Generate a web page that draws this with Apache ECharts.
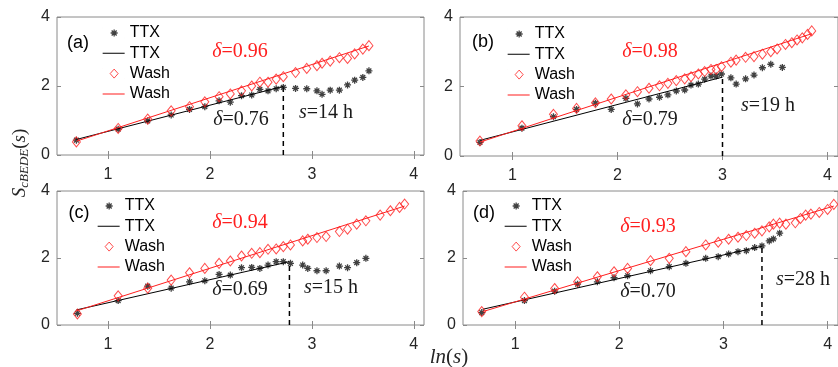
<!DOCTYPE html>
<html>
<head>
<meta charset="utf-8">
<script src="https://cdn.jsdelivr.net/npm/echarts@6/dist/echarts.min.js"></script>
<style>
  html, body { margin: 0; padding: 0; background: #fff; }
  #chart { width: 838px; height: 367px; }
</style>
</head>
<body>
<div id="chart"></div>
<script>
// tick labels
const xTicks = [1, 2, 3, 4];
const yTicks = [0, 2, 4];

// panel (a)
const aX = [0.69, 1.10, 1.39, 1.62, 1.80, 1.95, 2.09, 2.20, 2.31, 2.41, 2.49, 2.57, 2.65, 2.72, 2.84, 2.95, 3.05, 3.10, 3.18, 3.27, 3.35, 3.42, 3.50, 3.56];
const aTtxY = [0.43, 0.75, 0.99, 1.16, 1.32, 1.40, 1.57, 1.53, 1.72, 1.74, 1.90, 1.86, 1.92, 1.96, 1.93, 1.92, 1.86, 1.76, 1.88, 1.88, 2.03, 2.17, 2.25, 2.44];
const aWashY = [0.38, 0.77, 1.04, 1.28, 1.40, 1.54, 1.69, 1.77, 1.86, 2.00, 2.11, 2.11, 2.20, 2.27, 2.39, 2.51, 2.59, 2.66, 2.72, 2.82, 2.80, 2.93, 3.07, 3.17];
const aTtxFitX = [0.69, 2.72], aTtxFitY = [0.45, 1.99];
const aWashFitX = [0.69, 3.56], aWashFitY = [0.40, 3.16];
const aCut = [2.72, 1.97];

// panel (b)
const bWashX = [0.69, 1.09, 1.39, 1.61, 1.79, 1.94, 2.08, 2.19, 2.30, 2.40, 2.48, 2.56, 2.64, 2.70, 2.77, 2.83, 2.89, 2.94, 2.99, 3.08, 3.13, 3.22, 3.30, 3.38, 3.46, 3.52, 3.60, 3.66, 3.71, 3.76, 3.81, 3.85];
const bWashY = [0.43, 0.87, 1.20, 1.37, 1.53, 1.64, 1.76, 1.85, 1.95, 2.02, 2.09, 2.17, 2.22, 2.28, 2.36, 2.43, 2.49, 2.49, 2.57, 2.70, 2.76, 2.84, 2.86, 2.93, 3.00, 3.08, 3.21, 3.26, 3.34, 3.40, 3.50, 3.60];
const bTtxX = [0.69, 1.09, 1.39, 1.61, 1.79, 1.94, 2.08, 2.19, 2.30, 2.40, 2.48, 2.56, 2.64, 2.70, 2.77, 2.83, 2.89, 2.94, 2.99, 3.08, 3.13, 3.22, 3.30, 3.38, 3.46, 3.57];
const bTtxY = [0.39, 0.80, 1.13, 1.34, 1.52, 1.34, 1.66, 1.50, 1.64, 1.69, 1.76, 1.87, 1.90, 2.04, 2.07, 2.21, 2.30, 2.30, 2.36, 2.25, 2.07, 2.22, 2.33, 2.54, 2.64, 2.55];
const bTtxFitX = [0.69, 3.00], bTtxFitY = [0.45, 2.27];
const bWashFitX = [0.69, 3.85], bWashFitY = [0.40, 3.52];
const bCut = [3.00, 2.30];

// panel (c)
const cWashX = [0.70, 1.10, 1.39, 1.62, 1.80, 1.95, 2.09, 2.20, 2.31, 2.41, 2.49, 2.57, 2.65, 2.72, 2.79, 2.91, 2.96, 3.05, 3.14, 3.27, 3.35, 3.44, 3.53, 3.67, 3.77, 3.86, 3.91];
const cWashY = [0.33, 0.87, 1.10, 1.34, 1.56, 1.69, 1.84, 1.91, 2.06, 2.14, 2.16, 2.26, 2.27, 2.34, 2.39, 2.51, 2.56, 2.61, 2.64, 2.79, 2.86, 3.01, 3.11, 3.28, 3.41, 3.51, 3.61];
const cTtxX = [0.70, 1.10, 1.39, 1.62, 1.80, 1.95, 2.09, 2.20, 2.31, 2.41, 2.49, 2.57, 2.65, 2.72, 2.79, 2.91, 2.96, 3.05, 3.14, 3.27, 3.35, 3.44, 3.53];
const cTtxY = [0.35, 0.73, 1.16, 1.10, 1.29, 1.32, 1.51, 1.49, 1.71, 1.72, 1.69, 1.79, 1.89, 1.89, 1.84, 1.79, 1.69, 1.62, 1.62, 1.76, 1.71, 1.86, 1.99];
const cTtxFitX = [0.69, 2.78], cTtxFitY = [0.45, 1.89];
const cWashFitX = [0.69, 3.91], cWashFitY = [0.42, 3.55];
const cCut = [2.78, 1.88];

// panel (d)
const dWashX = [0.68, 1.09, 1.38, 1.60, 1.79, 1.95, 2.08, 2.30, 2.48, 2.64, 2.83, 2.95, 3.05, 3.14, 3.22, 3.30, 3.37, 3.44, 3.48, 3.54, 3.60, 3.69, 3.74, 3.79, 3.84, 3.92, 4.00, 4.06];
const dWashY = [0.40, 0.83, 1.09, 1.29, 1.44, 1.59, 1.69, 1.92, 1.99, 2.19, 2.39, 2.47, 2.56, 2.62, 2.67, 2.74, 2.81, 2.93, 3.01, 3.04, 3.01, 3.05, 3.18, 3.28, 3.31, 3.36, 3.45, 3.60];
const dTtxX = [0.68, 1.09, 1.38, 1.60, 1.79, 1.95, 2.08, 2.30, 2.48, 2.64, 2.83, 2.95, 3.05, 3.14, 3.22, 3.30, 3.37, 3.44, 3.48, 3.54];
const dTtxY = [0.37, 0.73, 1.01, 1.22, 1.29, 1.41, 1.47, 1.62, 1.74, 1.84, 1.99, 2.04, 2.12, 2.19, 2.22, 2.31, 2.36, 2.51, 2.57, 2.74];
const dTtxFitX = [0.69, 3.37], dTtxFitY = [0.47, 2.35];
const dWashFitX = [0.69, 4.06], dWashFitY = [0.40, 3.55];
const dCut = [3.37, 2.36];

const RED = '#ff1f1f';
const BOX = '#8a8a8a';
const SANS = '"Liberation Sans", Arial, sans-serif';
const SERIF = '"Liberation Serif", "Times New Roman", serif';
const STAR = 'path://M0,5L10,5M5,0L5,10M1.6,1.6L8.4,8.4M8.4,1.6L1.6,8.4';
// legend icons, padded to a 22x10 box so they are not stretched
const PAD = 'M0,0L0.01,0M21.99,10L22,10';
const STAR_ICON = 'path://' + PAD + 'M8,5L15,5M11.5,1.5L11.5,8.5M9,2.5L14,7.5M14,2.5L9,7.5';
const DIAMOND_ICON = 'path://' + PAD + 'M11.5,0.5L15.5,5L11.5,9.5L7.5,5Z';
const LINE_ICON = 'path://' + PAD + 'M0,4.5L22,4.5L22,5.5L0,5.5Z';

const zip = (xs, ys) => xs.map((x, i) => [x, ys[i]]);

const panels = [
  {tag: '(a)', grid: {left: 57, top: 17, width: 367, height: 138},
    ttx: zip(aX, aTtxY), wash: zip(aX, aWashY), ttxFit: zip(aTtxFitX, aTtxFitY), washFit: zip(aWashFitX, aWashFitY), cut: aCut,
    legend: {left: 102, top: 25}, tagPos: [78, 43],
    red: ['0.96', 240, 52], black: ['0.76', 241, 120], sText: ['14', 326, 113]},
  {tag: '(b)', grid: {left: 460, top: 17, width: 383, height: 139},
    ttx: zip(bTtxX, bTtxY), wash: zip(bWashX, bWashY), ttxFit: zip(bTtxFitX, bTtxFitY), washFit: zip(bWashFitX, bWashFitY), cut: bCut,
    legend: {left: 507, top: 26}, tagPos: [483, 42],
    red: ['0.98', 650, 52], black: ['0.79', 650, 120], sText: ['19', 768, 106]},
  {tag: '(c)', grid: {left: 57, top: 191, width: 367, height: 134},
    ttx: zip(cTtxX, cTtxY), wash: zip(cWashX, cWashY), ttxFit: zip(cTtxFitX, cTtxFitY), washFit: zip(cWashFitX, cWashFitY), cut: cCut,
    legend: {left: 97, top: 198}, tagPos: [79, 213],
    red: ['0.94', 240, 223], black: ['0.69', 240, 290], sText: ['15', 331, 288]},
  {tag: '(d)', grid: {left: 463, top: 191, width: 375, height: 134},
    ttx: zip(dTtxX, dTtxY), wash: zip(dWashX, dWashY), ttxFit: zip(dTtxFitX, dTtxFitY), washFit: zip(dWashFitX, dWashFitY), cut: dCut,
    legend: {left: 504, top: 198}, tagPos: [484, 213],
    red: ['0.93', 648, 227], black: ['0.70', 648, 292], sText: ['28', 803, 280]}
];

const grids = [], xAxes = [], yAxes = [], series = [], legends = [], graphics = [];

panels.forEach((p, i) => {
  grids.push(Object.assign({show: true, borderColor: BOX, borderWidth: 1, backgroundColor: '#fff'}, p.grid));

  ['bottom', 'top'].forEach(pos => {
    xAxes.push({
      type: 'value', gridIndex: i, position: pos, min: 0.5, max: 4.1,
      axisLine: {show: false},
      splitLine: {show: false},
      axisTick: {show: true, inside: true, length: 4, customValues: xTicks, lineStyle: {color: BOX}},
      axisLabel: {show: pos === 'bottom', customValues: xTicks, margin: 12, fontSize: 16, color: '#262626', fontFamily: SANS}
    });
  });
  ['left', 'right'].forEach(pos => {
    yAxes.push({
      type: 'value', gridIndex: i, position: pos, min: 0, max: 4,
      axisLine: {show: false},
      splitLine: {show: false},
      axisTick: {show: true, inside: true, length: 4, customValues: yTicks, lineStyle: {color: BOX}},
      axisLabel: {show: pos === 'left', customValues: yTicks, margin: 7, padding: [7, 0, 0, 0], fontSize: 16, color: '#262626', fontFamily: SANS}
    });
  });

  const ax = {xAxisIndex: 2 * i, yAxisIndex: 2 * i};
  const names = [i + '|TTX|pts', i + '|TTX|fit', i + '|Wash|pts', i + '|Wash|fit'];

  series.push(Object.assign({
    name: names[0], type: 'scatter', data: p.ttx, symbol: STAR, symbolSize: 7, symbolKeepAspect: true,
    itemStyle: {color: '#111', borderColor: '#111', borderWidth: 1.3}, z: 3
  }, ax));
  series.push(Object.assign({
    name: names[1], type: 'line', data: p.ttxFit, symbol: 'none',
    itemStyle: {color: '#000'}, lineStyle: {color: '#000', width: 1}, z: 4
  }, ax));
  series.push(Object.assign({
    name: names[2], type: 'scatter', data: p.wash, symbol: 'diamond', symbolSize: [8, 10],
    itemStyle: {color: 'rgba(255,255,255,0)', borderColor: RED, borderWidth: 1}, z: 5
  }, ax));
  series.push(Object.assign({
    name: names[3], type: 'line', data: p.washFit, symbol: 'none',
    itemStyle: {color: RED}, lineStyle: {color: RED, width: 1}, z: 6
  }, ax));
  series.push(Object.assign({
    name: i + '|cut', type: 'line', data: [[p.cut[0], 0], [p.cut[0], p.cut[1]]], symbol: 'none',
    lineStyle: {color: '#000', width: 1.5, type: [5, 4]}, z: 2, silent: true
  }, ax));

  legends.push({
    orient: 'vertical', left: p.legend.left, top: p.legend.top, padding: 0,
    itemWidth: 22, itemHeight: 10, itemGap: 4.3, selectedMode: false,
    data: [
      {name: names[0], icon: STAR_ICON, itemStyle: {color: '#111', borderColor: '#111', borderWidth: 1.3}},
      {name: names[1], icon: LINE_ICON, itemStyle: {color: '#000', borderWidth: 0}},
      {name: names[2], icon: DIAMOND_ICON, itemStyle: {color: 'rgba(255,255,255,0)', borderColor: RED, borderWidth: 1}},
      {name: names[3], icon: LINE_ICON, itemStyle: {color: RED, borderWidth: 0}}
    ],
    formatter: n => n.split('|')[1],
    textStyle: {fontSize: 16, lineHeight: 16, color: '#000', fontFamily: SANS}
  });

  graphics.push({type: 'text', x: p.tagPos[0], y: p.tagPos[1],
    style: {text: p.tag, font: '18px ' + SANS, fill: '#000', align: 'center', verticalAlign: 'middle', textAlign: 'center', textVerticalAlign: 'middle'}});

  const mathText = (txt, x, y, color) => ({
    type: 'text', x: x, y: y,
    style: {
      text: txt, fill: color, align: 'center', verticalAlign: 'middle', textAlign: 'center', textVerticalAlign: 'middle',
      font: '20px ' + SERIF,
      rich: {
        i: {fontStyle: 'italic', fontSize: 20, fontFamily: SERIF, fill: color, color: color},
        n: {fontSize: 20, fontFamily: SERIF, fill: color, color: color}
      }
    }
  });
  graphics.push(mathText('{i|δ}{n|=' + p.red[0] + '}', p.red[1], p.red[2], RED));
  graphics.push(mathText('{i|δ}{n|=' + p.black[0] + '}', p.black[1], p.black[2], '#1a1a1a'));
  graphics.push(mathText('{i|s}{n|=' + p.sText[0] + ' h}', p.sText[1], p.sText[2], '#1a1a1a'));
});

// axis titles
graphics.push({
  type: 'text', x: 20, y: 163, rotation: Math.PI / 2,
  style: {
    text: '{s|S}{sub|cBEDE}{p|(}{s|s}{p|)}', align: 'center', verticalAlign: 'middle', textAlign: 'center', textVerticalAlign: 'middle',
    fill: '#262626',
    rich: {
      s: {fontStyle: 'italic', fontSize: 19, fontFamily: SERIF, lineHeight: 22, verticalAlign: 'middle', fill: '#262626', color: '#262626'},
      sub: {fontStyle: 'italic', fontSize: 13, fontFamily: SERIF, lineHeight: 10, verticalAlign: 'bottom', fill: '#262626', color: '#262626'},
      p: {fontSize: 19, fontFamily: SERIF, lineHeight: 22, verticalAlign: 'middle', fill: '#262626', color: '#262626'}
    }
  }
});
graphics.push({
  type: 'text', x: 449, y: 357,
  style: {
    text: '{i|ln}{p|(}{i|s}{p|)}', align: 'center', verticalAlign: 'middle', textAlign: 'center', textVerticalAlign: 'middle',
    fill: '#262626',
    rich: {
      i: {fontStyle: 'italic', fontSize: 21, fontFamily: SERIF, fill: '#262626', color: '#262626'},
      p: {fontSize: 21, fontFamily: SERIF, fill: '#262626', color: '#262626'}
    }
  }
});

const chart = echarts.init(document.getElementById('chart'), null, {renderer: 'canvas'});
chart.setOption({
  animation: false,
  backgroundColor: '#fff',
  grid: grids,
  xAxis: xAxes,
  yAxis: yAxes,
  legend: legends,
  series: series,
  graphic: graphics
});
</script>
</body>
</html>
